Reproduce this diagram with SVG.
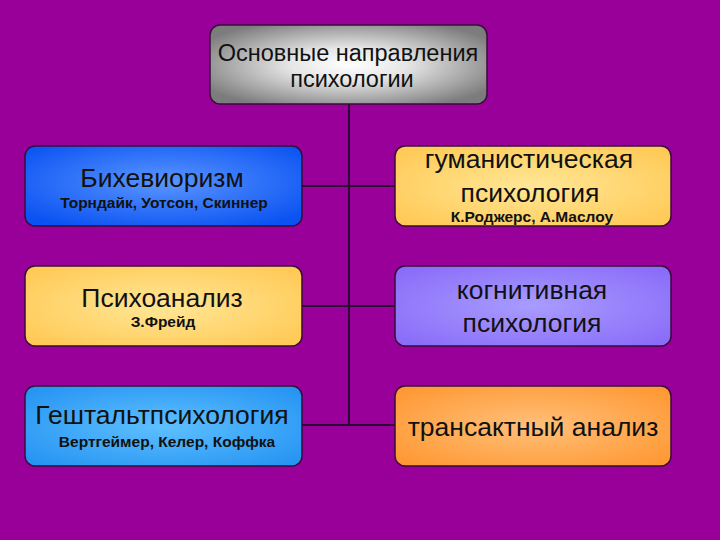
<svg xmlns="http://www.w3.org/2000/svg" width="720" height="540" viewBox="0 0 720 540">
<defs>
<radialGradient id="gGray" cx="50%" cy="50%" r="60%"><stop offset="0" stop-color="#ffffff"/><stop offset="0.35" stop-color="#e6e6e6"/><stop offset="1" stop-color="#7c7c7c"/></radialGradient>
<radialGradient id="gBlue" cx="50%" cy="45%" r="65%"><stop offset="0" stop-color="#5a96ff"/><stop offset="1" stop-color="#0a52f2"/></radialGradient>
<radialGradient id="gYellow" cx="50%" cy="50%" r="65%"><stop offset="0" stop-color="#ffe796"/><stop offset="1" stop-color="#ffc955"/></radialGradient>
<radialGradient id="gLav" cx="50%" cy="50%" r="65%"><stop offset="0" stop-color="#a89cff"/><stop offset="1" stop-color="#8a6cf8"/></radialGradient>
<radialGradient id="gSky" cx="50%" cy="50%" r="65%"><stop offset="0" stop-color="#5ec0ff"/><stop offset="1" stop-color="#2694f2"/></radialGradient>
<radialGradient id="gOrange" cx="50%" cy="50%" r="65%"><stop offset="0" stop-color="#ffc07a"/><stop offset="1" stop-color="#ff9833"/></radialGradient>
</defs>
<style>
.box{stroke:#3a0a3c;stroke-width:1.5}
.t{font-family:"Liberation Sans",Arial,sans-serif;text-anchor:middle;fill:#111}
.big{font-size:26.5px}
.top{font-size:23.5px}
.sub{font-size:15.5px;font-weight:bold}
.con{stroke:#2a0a33;stroke-width:2;fill:none}
</style>
<rect width="720" height="540" fill="#990099"/>
<g id="connectors">
<line class="con" x1="349" y1="104" x2="349" y2="425"/>
<line class="con" x1="302" y1="186" x2="395" y2="186"/>
<line class="con" x1="302" y1="306" x2="395" y2="306"/>
<line class="con" x1="302" y1="425" x2="395" y2="425"/>
</g>
<g id="root">
<rect class="box" x="210" y="25" width="277" height="79" rx="10" fill="url(#gGray)"/>
<text class="t top" x="348" y="61">Основные направления</text>
<text class="t top" x="352" y="87">психологии</text>
</g>
<g id="behaviorism">
<rect class="box" x="25" y="146" width="277" height="80" rx="10" fill="url(#gBlue)"/>
<text class="t big" x="162" y="187">Бихевиоризм</text>
<text class="t sub" x="164" y="208">Торндайк, Уотсон, Скиннер</text>
</g>
<g id="humanistic">
<rect class="box" x="395" y="146" width="276" height="80" rx="10" fill="url(#gYellow)"/>
<text class="t big" x="529" y="168">гуманистическая</text>
<text class="t big" x="530" y="202">психология</text>
<text class="t sub" x="532" y="222">К.Роджерс, А.Маслоу</text>
</g>
<g id="psychoanalysis">
<rect class="box" x="25" y="266" width="277" height="80" rx="10" fill="url(#gYellow)"/>
<text class="t big" x="162" y="307">Психоанализ</text>
<text class="t sub" x="163" y="327">З.Фрейд</text>
</g>
<g id="cognitive">
<rect class="box" x="395" y="266" width="276" height="80" rx="10" fill="url(#gLav)"/>
<text class="t big" x="532" y="299">когнитивная</text>
<text class="t big" x="532" y="332">психология</text>
</g>
<g id="gestalt">
<rect class="box" x="25" y="386" width="277" height="80" rx="10" fill="url(#gSky)"/>
<text class="t big" x="162" y="424">Гештальтпсихология</text>
<text class="t sub" x="167" y="447">Вертгеймер, Келер, Коффка</text>
</g>
<g id="transactional">
<rect class="box" x="395" y="386" width="276" height="80" rx="10" fill="url(#gOrange)"/>
<text class="t big" x="533" y="436">трансактный анализ</text>
</g>
</svg>
